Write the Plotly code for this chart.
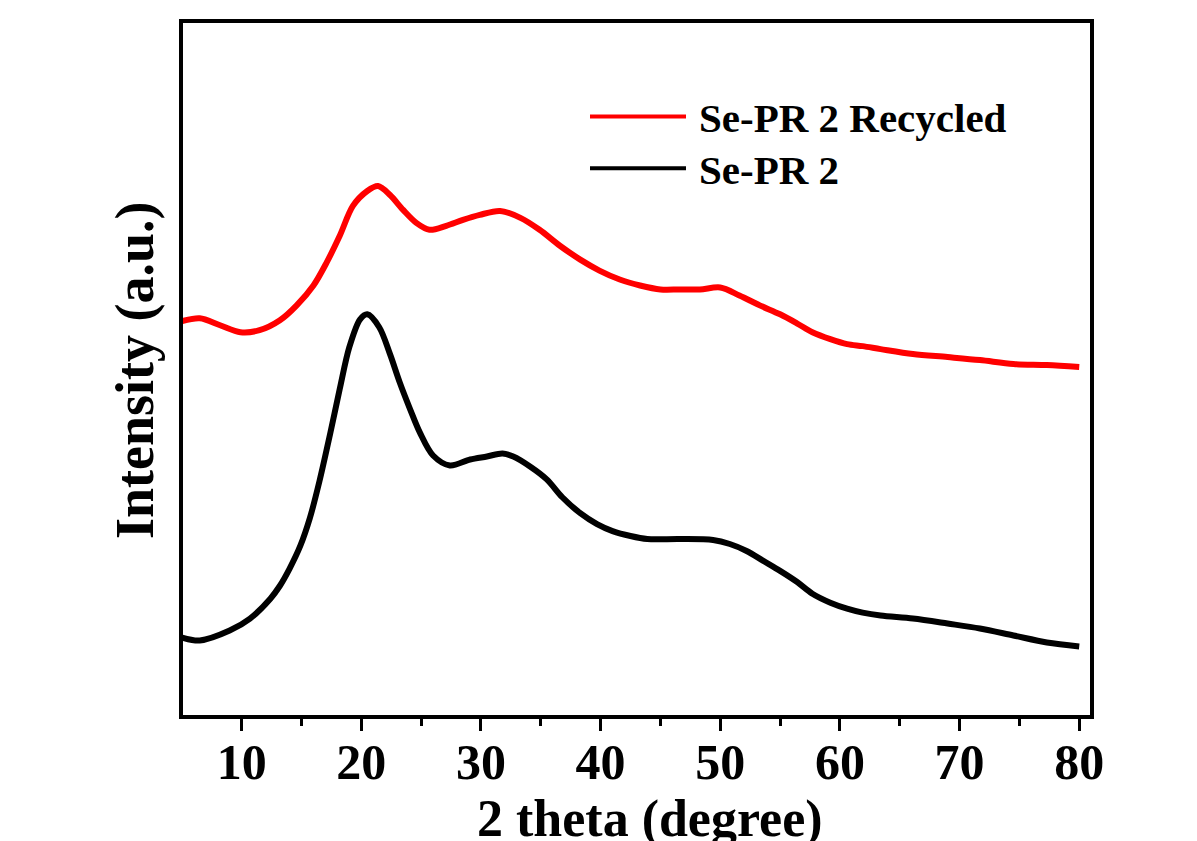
import plotly.graph_objects as go

# 2 theta (degree)
theta_pr2 = [5.0, 6.5, 9.0, 10.7, 12.4, 13.2, 14.0, 14.9, 15.7, 16.5, 17.4, 18.2, 19.0, 19.9, 20.5,
             21.5, 22.4, 23.2, 24.1, 24.9, 26.0, 27.4, 29.1, 30.5, 31.8, 32.7, 34.1, 35.5, 36.8,
             38.3, 39.7, 41.0, 42.5, 43.9, 46.6, 49.4, 50.8, 52.2, 53.6, 55.0, 56.4, 57.7, 59.2,
             60.6, 61.9, 63.4, 66.1, 69.0, 71.7, 74.5, 77.3, 80.0]
int_pr2 = [78, 75, 85, 97, 117, 130, 147, 170, 198, 235, 283, 328, 370, 398, 403,
           390, 363, 335, 307, 284, 261, 251, 257, 260, 263, 260, 250, 237, 219,
           203, 192, 185, 180, 177, 177, 176, 172, 165, 155, 145, 134, 122, 113,
           107, 103, 100, 97, 92, 87, 80, 73, 69]

theta_rec = [5.0, 6.5, 8.2, 9.9, 11.5, 13.2, 14.6, 16.0, 17.1, 18.2, 19.3, 20.5, 21.4, 22.4,
             23.5, 24.6, 25.7, 27.1, 28.5, 29.9, 31.6, 33.3, 34.9, 36.6, 38.3, 39.9, 41.6,
             43.3, 45.0, 46.6, 48.3, 50.0, 51.6, 53.3, 55.0, 56.4, 57.7, 59.2, 60.6, 61.9,
             63.4, 66.1, 69.0, 71.7, 74.5, 77.3, 80.0]
int_rec = [396, 399, 392, 385, 387, 397, 412, 432, 455, 482, 512, 527, 532, 523,
           508, 495, 488, 492, 498, 503, 507, 500, 488, 472, 458, 447, 438,
           432, 428, 428, 428, 430, 422, 412, 403, 394, 385, 378, 373, 371,
           368, 363, 360, 357, 353, 352, 350]

x_ticks = [10, 20, 30, 40, 50, 60, 70, 80]
x_minor_ticks = [15, 25, 35, 45, 55, 65, 75]
series_names = ["Se-PR 2 Recycled", "Se-PR 2"]
series_colors = ["#FF0000", "#000000"]

FONT = "Liberation Serif, Times New Roman, serif"

fig = go.Figure()
fig.add_trace(go.Scatter(x=theta_pr2, y=int_pr2, mode="lines", name=series_names[1],
                         line=dict(color=series_colors[1], width=6, shape="spline", smoothing=0.9),
                         showlegend=False))
fig.add_trace(go.Scatter(x=theta_rec, y=int_rec, mode="lines", name=series_names[0],
                         line=dict(color=series_colors[0], width=6, shape="spline", smoothing=0.9),
                         showlegend=False))

OFF = 8  # page body margin
W, H = 1197 - OFF, 841 - OFF
L, R, T, B = 183 - OFF, 107, 19 - OFF, 126
pw, ph = W - L - R, H - T - B

def px_x(px):
    return (px - OFF - L) / pw

def px_y(py):
    return (H - B - (py - OFF)) / ph

# manual legend
legend_rows = [113, 165]
for name, color, py in zip(series_names, series_colors, legend_rows):
    fig.add_shape(type="line", xref="paper", yref="paper",
                  x0=px_x(590), x1=px_x(686), y0=px_y(py), y1=px_y(py),
                  line=dict(color=color, width=4))
    fig.add_annotation(xref="paper", yref="paper", x=px_x(697), y=px_y(py + 2),
                       text=name, showarrow=False, xanchor="left", yanchor="middle",
                       font=dict(family=FONT, size=41, color="black", weight="bold"))

# axis titles
fig.add_annotation(xref="paper", yref="paper", x=px_x(650), y=px_y(820),
                   text="2 theta (degree)", showarrow=False, xanchor="center", yanchor="middle",
                   font=dict(family=FONT, size=52, color="black", weight="bold"))
fig.add_annotation(xref="paper", yref="paper", x=px_x(135), y=px_y(368),
                   text="Intensity (a.u.)", showarrow=False, xanchor="center", yanchor="middle",
                   textangle=-90,
                   font=dict(family=FONT, size=54, color="black", weight="bold"))

fig.update_layout(
    width=W, height=H,
    margin=dict(l=L, r=R, t=T, b=B),
    paper_bgcolor="white", plot_bgcolor="white",
    font=dict(family=FONT, color="black"),
    showlegend=False,
)
fig.update_xaxes(
    range=[5.1, 80.9], tickvals=x_ticks, ticks="outside", ticklen=12, tickwidth=3,
    tickcolor="black", showline=True, linewidth=4, linecolor="black", mirror=True,
    showgrid=False, zeroline=False, ticklabelstandoff=-12,
    tickfont=dict(family=FONT, size=50, color="black", weight="bold"),
    minor=dict(tickvals=x_minor_ticks, ticks="outside", ticklen=7,
               tickwidth=3, tickcolor="black"),
)
fig.update_yaxes(
    range=[0, 696], showticklabels=False, ticks="", showline=True, linewidth=4,
    linecolor="black", mirror=True, showgrid=False, zeroline=False,
)

fig.write_html("out.html")
